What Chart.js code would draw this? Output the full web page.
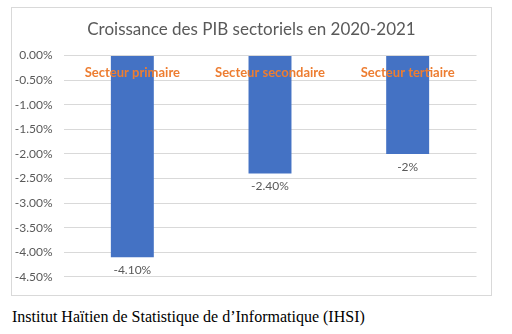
<!DOCTYPE html>
<html lang="fr">
<head>
    <meta charset="UTF-8">
    <title>Croissance des PIB sectoriels en 2020-2021</title>
    <script src="https://cdn.jsdelivr.net/npm/chart.js"></script>
    <style>
        body {
            margin: 0;
            background: white;
            width: 512px;
            height: 334px;
            position: relative;
            overflow: hidden;
        }

        .chart-box {
            position: absolute;
            left: 11px;
            top: 7px;
            width: 479px;
            height: 287px;
            border: 1px solid #d9d9d9;
        }

        .chart-title {
            position: absolute;
            left: 11px;
            top: 19px;
            width: 481px;
            text-align: center;
            font-family: Lato, sans-serif;
            font-size: 17px;
            line-height: 20px;
            color: #595959;
            white-space: nowrap;
        }

        .source {
            position: absolute;
            left: 12px;
            top: 308px;
            font-family: "Liberation Serif", "Times New Roman", serif;
            font-size: 16px;
            color: #000;
            white-space: nowrap;
        }
    </style>
</head>
<body>

    <div class="chart-box">
        <canvas id="pibChart" width="479" height="287"></canvas>
    </div>
    <div class="chart-title">Croissance des PIB sectoriels en 2020-2021</div>
    <div class="source">Institut Haïtien de Statistique de d’Informatique (IHSI)</div>

    <script>
        const sectors = ["Secteur primaire", "Secteur secondaire", "Secteur tertiaire"];
        const growth = [-4.1, -2.4, -2];
        const growthLabels = ["-4.10%", "-2.40%", "-2%"];

        const grey = "#595959";

        // value labels just under the end of each bar
        const valueLabels = {
            id: "valueLabels",
            afterDatasetsDraw(chart) {
                const ctx = chart.ctx;
                const meta = chart.getDatasetMeta(0);
                ctx.save();
                ctx.font = "12px Lato";
                ctx.fillStyle = grey;
                ctx.textAlign = "center";
                ctx.textBaseline = "middle";
                meta.data.forEach((bar, i) => {
                    ctx.fillText(growthLabels[i], bar.x, bar.y + 13);
                });
                ctx.restore();
            }
        };

        const ctx = document.getElementById("pibChart").getContext("2d");

        new Chart(ctx, {
            type: "bar",
            data: {
                labels: sectors,
                datasets: [{
                    data: growth,
                    backgroundColor: "#4472c4",
                    categoryPercentage: 1,
                    barPercentage: 0.312
                }]
            },
            options: {
                responsive: false,
                animation: false,
                layout: {
                    padding: { left: 0, right: 14.5, top: 47.6, bottom: 5 }
                },
                plugins: {
                    legend: { display: false },
                    tooltip: { enabled: false }
                },
                scales: {
                    x: {
                        position: { y: 0 },
                        z: 1,
                        grid: { display: false, drawTicks: false },
                        border: { display: false },
                        ticks: {
                            z: 1,
                            color: "#ed7d31",
                            font: { family: "Lato", size: 13, weight: "bold" },
                            padding: 9,
                            maxRotation: 0
                        }
                    },
                    y: {
                        min: -4.5,
                        max: 0,
                        afterFit(scale) { scale.width = 51.5; },
                        grid: { color: "#d9d9d9", drawTicks: false },
                        border: { display: false },
                        ticks: {
                            stepSize: 0.5,
                            color: grey,
                            font: { family: "Lato", size: 12 },
                            padding: 11,
                            callback: v => v.toFixed(2) + "%"
                        }
                    }
                }
            },
            plugins: [valueLabels]
        });
    </script>
</body>
</html>
